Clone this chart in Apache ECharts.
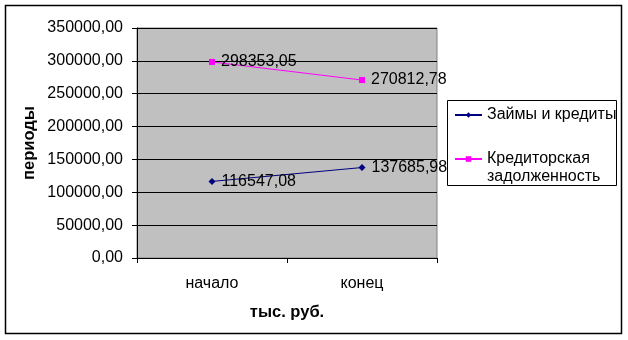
<!DOCTYPE html>
<html>
<head>
<meta charset="utf-8">
<script src="https://cdn.jsdelivr.net/npm/echarts@6/dist/echarts.min.js"></script>
<style>
html,body{margin:0;padding:0;background:#fff;}
#c{width:628px;height:340px;}
</style>
</head>
<body>
<div id="c"></div>
<script>
var categories = ['начало', 'конец'];
var loansValues = [116547.08, 137685.98];
var payablesValues = [298353.05, 270812.78];
var seriesNames = ['Займы и кредиты', 'Кредиторская задолженность'];
var yAxisName = 'периоды';
var xAxisName = 'тыс. руб.';

var FONT = 'Liberation Sans, Arial, sans-serif';
function fmt(v){ return Number(v).toFixed(2).replace('.', ','); }
var nameParts = seriesNames[1].split(' ');

var chart = echarts.init(document.getElementById('c'), null, {renderer:'canvas'});
chart.setOption({
  animation:false,
  textStyle:{fontFamily:FONT},
  graphic:[
    {type:'rect', shape:{x:5.5,y:5.5,width:616,height:328}, style:{fill:'none',stroke:'#000',lineWidth:1.5}, z:-10},
    {type:'rect', shape:{x:447.5,y:100.5,width:169,height:85}, style:{fill:'#fff',stroke:'#000',lineWidth:1}, z:-5},
    {type:'text', left:487, top:169, style:{text:nameParts[1], font:'16px ' + FONT, fill:'#000'}}
  ],
  grid:{left:137, top:28, width:300, height:230, show:true, backgroundColor:'#c0c0c0', borderColor:'#808080', borderWidth:1},
  legend:[
    {data:[seriesNames[0]], left:454, top:107, orient:'vertical', padding:0, itemWidth:27, itemHeight:7,
     textStyle:{fontFamily:FONT, fontSize:16, color:'#000'}},
    {data:[seriesNames[1]], left:454, top:151, orient:'vertical', padding:0, itemWidth:27, itemHeight:7,
     formatter:function(n){ return n.split(' ')[0]; },
     textStyle:{fontFamily:FONT, fontSize:16, color:'#000'}}
  ],
  xAxis:{
    type:'category', data:categories, boundaryGap:true,
    name:xAxisName, nameLocation:'middle', nameGap:46,
    nameTextStyle:{fontFamily:FONT, fontSize:16.5, fontWeight:'bold', color:'#000'},
    axisLine:{lineStyle:{color:'#000', width:1}},
    axisTick:{show:true, length:5, lineStyle:{color:'#000'}},
    axisLabel:{fontFamily:FONT, fontSize:16, color:'#000', margin:18}
  },
  yAxis:{
    type:'value', min:0, max:350000, interval:50000,
    name:yAxisName, nameLocation:'middle', nameGap:99, nameRotate:90,
    nameTextStyle:{fontFamily:FONT, fontSize:16.5, fontWeight:'bold', color:'#000'},
    axisLine:{show:true, lineStyle:{color:'#000', width:1}},
    axisTick:{show:true, length:5, lineStyle:{color:'#000'}},
    axisLabel:{fontFamily:FONT, fontSize:16, color:'#000', margin:14, formatter:fmt},
    splitLine:{show:true, lineStyle:{color:'#000', width:1}}
  },
  series:[
    {name:seriesNames[0], type:'line', data:loansValues, symbol:'diamond', symbolSize:7,
     itemStyle:{color:'#000080'}, lineStyle:{color:'#000080', width:1},
     label:{show:true, position:'right', distance:6, fontFamily:FONT, fontSize:16, color:'#000', formatter:function(p){return fmt(p.value);}}},
    {name:seriesNames[1], type:'line', data:payablesValues, symbol:'rect', symbolSize:6,
     itemStyle:{color:'#ff00ff'}, lineStyle:{color:'#ff00ff', width:1},
     label:{show:true, position:'right', distance:6, fontFamily:FONT, fontSize:16, color:'#000', formatter:function(p){return fmt(p.value);}}}
  ]
});
</script>
</body>
</html>
